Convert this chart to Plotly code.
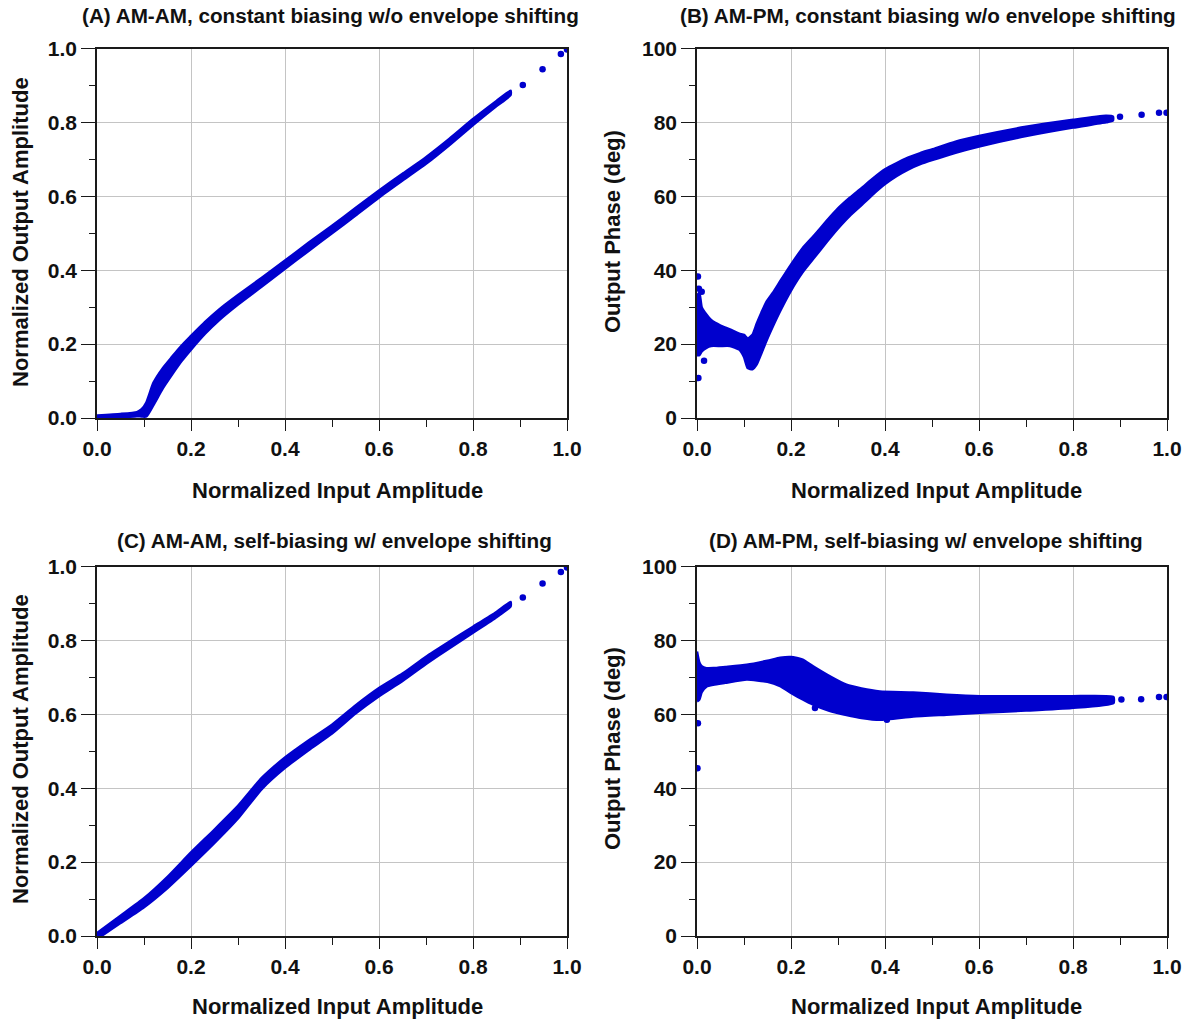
import plotly.graph_objects as go

BLUE = "#0000cd"

# ---------------- (A) AM-AM, constant biasing ----------------
a_x = [0.000, 0.050, 0.085, 0.095, 0.105, 0.120, 0.140, 0.160, 0.180, 0.200,
       0.230, 0.260, 0.300, 0.350, 0.400, 0.450, 0.500, 0.550, 0.600, 0.650,
       0.700, 0.750, 0.800, 0.850, 0.880]
a_lo = [-0.003, 0.001, 0.005, 0.004, 0.004, 0.035, 0.080, 0.118, 0.154, 0.185,
        0.228, 0.265, 0.307, 0.355, 0.404, 0.452, 0.500, 0.548, 0.597, 0.643,
        0.688, 0.739, 0.793, 0.844, 0.874]
a_hi = [0.007, 0.011, 0.016, 0.024, 0.042, 0.095, 0.135, 0.166, 0.196, 0.222,
        0.260, 0.294, 0.333, 0.379, 0.426, 0.474, 0.520, 0.568, 0.616, 0.661,
        0.706, 0.756, 0.809, 0.858, 0.886]
a_pts_x = [0.906, 0.948, 0.987, 1.000]
a_pts_y = [0.901, 0.944, 0.985, 0.997]

# ---------------- (B) AM-PM, constant biasing ----------------
b_x = [0.000, 0.005, 0.010, 0.020, 0.030, 0.050, 0.070, 0.090, 0.100, 0.108,
       0.118, 0.127, 0.137, 0.148, 0.162, 0.177, 0.200, 0.225, 0.250, 0.275,
       0.300, 0.325, 0.350, 0.375, 0.400, 0.425, 0.450, 0.475, 0.500, 0.550,
       0.600, 0.700, 0.800, 0.870, 0.885]
b_lo = [17.0, 17.0, 18.0, 19.0, 19.5, 19.5, 19.5, 18.5, 16.5, 13.5,
        13.2, 14.5, 17.5, 21.0, 25.0, 29.0, 34.5, 39.5, 43.5, 47.5,
        51.3, 54.7, 57.6, 60.6, 63.3, 65.5, 67.3, 68.7, 69.8, 71.8,
        73.5, 76.3, 78.6, 80.0, 80.5]
b_hi = [33.0, 34.0, 30.0, 28.0, 26.5, 25.0, 24.0, 22.8, 22.5, 21.5,
        22.5, 25.5, 28.5, 31.5, 34.0, 37.0, 41.5, 46.0, 49.5, 53.2,
        56.7, 59.6, 62.2, 64.9, 67.3, 69.0, 70.5, 71.7, 72.7, 74.8,
        76.3, 78.8, 80.7, 81.8, 81.6]
b_pts_x = [0.002, 0.004, 0.010, 0.003, 0.015, 0.900, 0.946, 0.983, 0.999]
b_pts_y = [38.3, 35.0, 34.2, 10.8, 15.5, 81.5, 82.1, 82.6, 82.6]

# ---------------- (C) AM-AM, self-biasing ----------------
c_x = [0.000, 0.050, 0.100, 0.150, 0.200, 0.250, 0.300, 0.350, 0.400, 0.450,
       0.500, 0.550, 0.600, 0.650, 0.700, 0.750, 0.800, 0.850, 0.880]
c_lo = [-0.008, 0.035, 0.078, 0.130, 0.190, 0.252, 0.318, 0.397, 0.455, 0.503,
        0.548, 0.602, 0.649, 0.690, 0.736, 0.779, 0.821, 0.863, 0.892]
c_hi = [0.008, 0.055, 0.102, 0.160, 0.226, 0.288, 0.352, 0.427, 0.483, 0.529,
        0.572, 0.624, 0.671, 0.710, 0.756, 0.797, 0.837, 0.877, 0.904]
c_pts_x = [0.906, 0.948, 0.987, 1.000]
c_pts_y = [0.916, 0.954, 0.985, 0.997]

# ---------------- (D) AM-PM, self-biasing ----------------
d_x = [0.000, 0.005, 0.010, 0.020, 0.035, 0.060, 0.106, 0.150, 0.177, 0.200,
       0.225, 0.247, 0.280, 0.318, 0.350, 0.389, 0.460, 0.531, 0.602, 0.700,
       0.797, 0.886]
d_lo = [63.5, 64.0, 66.0, 67.5, 68.0, 68.5, 69.4, 68.8, 67.6, 65.8,
        64.0, 62.6, 61.0, 59.8, 59.0, 58.5, 59.4, 59.9, 60.4, 61.0,
        61.7, 63.0]
d_hi = [77.0, 74.0, 73.0, 72.5, 72.5, 72.8, 73.4, 74.5, 75.3, 75.5,
        74.8, 73.0, 70.5, 68.0, 67.0, 66.2, 65.9, 65.3, 64.9, 64.9,
        64.9, 64.7]
d_pts_x = [0.002, 0.001, 0.251, 0.404, 0.903, 0.945, 0.983, 0.999]
d_pts_y = [57.6, 45.4, 61.7, 58.5, 64.0, 64.1, 64.7, 64.7]

titles = [
    "(A) AM-AM, constant biasing w/o envelope shifting",
    "(B) AM-PM, constant biasing w/o envelope shifting",
    "(C) AM-AM, self-biasing w/ envelope shifting",
    "(D) AM-PM, self-biasing w/ envelope shifting",
]
x_title = "Normalized Input Amplitude"
amp_title = "Normalized Output Amplitude"
phase_title = "Output Phase (deg)"

W, H = 1186, 1021
FONT = "Liberation Sans, Arial, sans-serif"

fig = go.Figure()


def add_band(xs, lo, hi, px, py, n):
    suffix = "" if n == 1 else str(n)
    fig.add_trace(go.Scatter(
        x=list(xs) + list(xs)[::-1],
        y=list(hi) + list(lo)[::-1],
        mode="lines", fill="toself", fillcolor=BLUE,
        line=dict(color=BLUE, width=2.5, shape="spline", smoothing=0.5),
        xaxis="x" + suffix, yaxis="y" + suffix, hoverinfo="skip",
        showlegend=False))
    fig.add_trace(go.Scatter(
        x=px, y=py, mode="markers",
        marker=dict(color=BLUE, size=6.5, line=dict(width=0)),
        xaxis="x" + suffix, yaxis="y" + suffix, showlegend=False))


add_band(a_x, a_lo, a_hi, a_pts_x, a_pts_y, 1)
add_band(b_x, b_lo, b_hi, b_pts_x, b_pts_y, 2)
add_band(c_x, c_lo, c_hi, c_pts_x, c_pts_y, 3)
add_band(d_x, d_lo, d_hi, d_pts_x, d_pts_y, 4)

# plot-area pixel boxes (left, right, top, bottom)
boxes = {
    1: (97, 567, 48.5, 418),
    2: (697, 1167, 48.5, 418),
    3: (97, 567, 566.5, 936),
    4: (697, 1167, 566.5, 936),
}

tickfont = dict(family=FONT, size=21, color="#111111", weight="bold")
common = dict(
    showline=True, linecolor="#1a1a1a", linewidth=1.5, mirror=True,
    showgrid=True, gridcolor="#c4c4c4", gridwidth=1.4,
    zeroline=False, ticks="outside", tickcolor="#1a1a1a", tickwidth=1.3,
    tickfont=tickfont, automargin=False,
)

for n, (l, r, t, b) in boxes.items():
    suffix = "" if n == 1 else str(n)
    xdom = [l / W, r / W]
    ydom = [1 - b / H, 1 - t / H]
    fig.layout["xaxis" + suffix] = dict(
        common, domain=xdom, range=[0, 1], dtick=0.2, tick0=0,
        tickformat=".1f", ticklen=11,
        minor=dict(dtick=0.1, tick0=0, ticks="outside", ticklen=7,
                   tickcolor="#1a1a1a", tickwidth=1.3, showgrid=False),
        anchor="y" + suffix)
    if n in (1, 3):
        yextra = dict(range=[0, 1], dtick=0.2, tick0=0, tickformat=".1f",
                      minor=dict(dtick=0.1, tick0=0, ticks="outside", ticklen=6,
                                 tickcolor="#1a1a1a", tickwidth=1.3, showgrid=False))
    else:
        yextra = dict(range=[0, 100], dtick=20, tick0=0,
                      minor=dict(dtick=10, tick0=0, ticks="outside", ticklen=6,
                                 tickcolor="#1a1a1a", tickwidth=1.3, showgrid=False))
    fig.layout["yaxis" + suffix] = dict(
        common, domain=ydom, ticklen=14, anchor="x" + suffix, **yextra)

ann = []
title_font = dict(family=FONT, size=20.7, color="#111111", weight="bold")
label_font = dict(family=FONT, size=22, color="#111111", weight="bold")
title_pos = [(330, 15), (928, 15), (334, 540), (926, 540)]
for text, (tx, ty) in zip(titles, title_pos):
    ann.append(dict(text=text, x=tx / W, y=1 - ty / H, xref="paper", yref="paper",
                    xanchor="center", yanchor="middle", showarrow=False,
                    font=title_font))
for tx, ty in [(337, 490), (936, 490), (337, 1006), (936, 1006)]:
    ann.append(dict(text=x_title, x=tx / W, y=1 - ty / H, xref="paper", yref="paper",
                    xanchor="center", yanchor="middle", showarrow=False,
                    font=label_font))
for text, tx, ty in [(amp_title, 20, 232), (phase_title, 612, 232),
                     (amp_title, 20, 749), (phase_title, 612, 749)]:
    ann.append(dict(text=text, x=tx / W, y=1 - ty / H, xref="paper", yref="paper",
                    xanchor="center", yanchor="middle", showarrow=False,
                    textangle=-90, font=label_font))

fig.update_layout(
    width=W, height=H,
    margin=dict(l=0, r=0, t=0, b=0, pad=0, autoexpand=False),
    paper_bgcolor="white", plot_bgcolor="white",
    annotations=ann, showlegend=False,
)

fig.write_html("out.html")
